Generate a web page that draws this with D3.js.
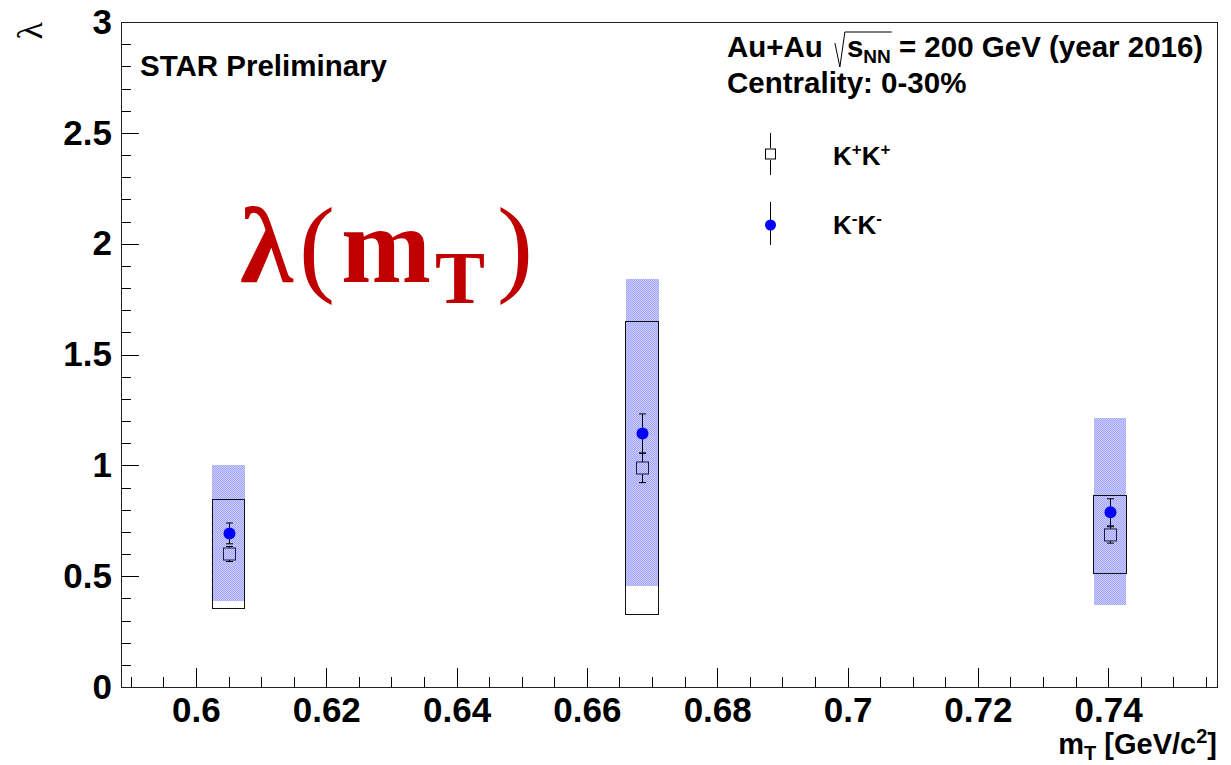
<!DOCTYPE html>
<html><head><meta charset="utf-8">
<script src="https://cdn.jsdelivr.net/npm/d3@7"></script>
<style>body{margin:0;background:#fff} svg{display:block}</style>
</head><body>
<svg id="c" width="1231" height="765"></svg>
<script>
// ---------------- data ----------------
const mT = [0.6050, 0.6685, 0.7403];
const lambdaKpKp = [0.600, 0.988, 0.686];
const statKpKp = [0.034, 0.066, 0.037];
const sysLowKpKp = [0.355, 0.328, 0.510];
const sysHighKpKp = [0.846, 1.648, 0.863];
const lambdaKmKm = [0.693, 1.144, 0.788];
const statKmKm = [0.047, 0.088, 0.061];
const sysLowKmKm = [0.390, 0.456, 0.370];
const sysHighKmKm = [1.000, 1.842, 1.212];
const sysHalfWidth = 0.0025;
const xTicks = [0.6, 0.62, 0.64, 0.66, 0.68, 0.7, 0.72, 0.74];
const yTicks = [0, 0.5, 1, 1.5, 2, 2.5, 3];
const xDomain = [0.5885, 0.7567];
const yDomain = [0, 3];

// ---------------- layout ----------------
const frame = {left:121, right:1217, top:22, bottom:687};
const x = d3.scaleLinear().domain(xDomain).range([frame.left, frame.right]);
const y = d3.scaleLinear().domain(yDomain).range([frame.bottom, frame.top]);
const SANS = "'Liberation Sans', Arial, Helvetica, sans-serif";
const SERIF = "'Liberation Serif', 'Times New Roman', serif";
const svg = d3.select("#c");

const defs = svg.append("defs");
const pat = defs.append("pattern").attr("id","hatch").attr("width",2).attr("height",2)
  .attr("patternUnits","userSpaceOnUse");
pat.append("rect").attr("width",2).attr("height",2).attr("fill","#cacbff");
pat.append("rect").attr("width",1).attr("height",1).attr("fill","#a4a6f8");
pat.append("rect").attr("x",1).attr("y",1).attr("width",1).attr("height",1).attr("fill","#a4a6f8");

// minor ticks
const xMinor = d3.range(0.59, 0.7566, 0.005).filter(v => Math.abs(v/0.02 - Math.round(v/0.02)) > 1e-6);
const yMinor = d3.range(0.1, 3.0, 0.1).filter(v => Math.abs(v/0.5 - Math.round(v/0.5)) > 1e-6);

// x axis
const gxm = svg.append("g").attr("transform",`translate(0,${frame.bottom})`)
  .call(d3.axisBottom(x).tickValues(xMinor).tickSize(-10).tickFormat(""));
gxm.select(".domain").remove();
const gx = svg.append("g").attr("transform",`translate(0,${frame.bottom})`)
  .call(d3.axisBottom(x).tickValues(xTicks).tickSize(-19).tickPadding(10).tickFormat(d3.format("~g")));
gx.select(".domain").remove();
gx.selectAll("text").attr("font-family",SANS).attr("font-weight","bold").attr("font-size",35).attr("fill","#000");

// y axis
const gym = svg.append("g").attr("transform",`translate(${frame.left},0)`)
  .call(d3.axisLeft(y).tickValues(yMinor).tickSize(-10).tickFormat(""));
gym.select(".domain").remove();
const gy = svg.append("g").attr("transform",`translate(${frame.left},0)`)
  .call(d3.axisLeft(y).tickValues(yTicks).tickSize(-18).tickPadding(9).tickFormat(d3.format("~g")));
gy.select(".domain").remove();
gy.selectAll("text").attr("font-family",SANS).attr("font-weight","bold").attr("font-size",35).attr("fill","#000");
svg.selectAll(".tick line").attr("stroke","#000").attr("stroke-width",1).attr("shape-rendering","crispEdges");

// frame
svg.append("rect").attr("x",frame.left).attr("y",frame.top)
  .attr("width",frame.right-frame.left).attr("height",frame.bottom-frame.top)
  .attr("fill","none").attr("stroke","#222").attr("stroke-width",1).attr("shape-rendering","crispEdges");

// ---------------- data marks ----------------
const idx = d3.range(mT.length);
const bw = i => x(mT[i]+sysHalfWidth) - x(mT[i]-sysHalfWidth);
// K-K- systematic band
svg.append("g").selectAll("rect").data(idx).join("rect")
  .attr("x", i => x(mT[i]-sysHalfWidth)).attr("width", bw)
  .attr("y", i => y(sysHighKmKm[i])).attr("height", i => y(sysLowKmKm[i]) - y(sysHighKmKm[i]))
  .attr("fill","url(#hatch)").attr("shape-rendering","crispEdges");
// K+K+ systematic box
svg.append("g").selectAll("rect").data(idx).join("rect")
  .attr("x", i => x(mT[i]-sysHalfWidth)).attr("width", bw)
  .attr("y", i => y(sysHighKpKp[i])).attr("height", i => y(sysLowKpKp[i]) - y(sysHighKpKp[i]))
  .attr("fill","none").attr("stroke","#111").attr("stroke-width",1).attr("shape-rendering","crispEdges");

function errorBars(vals, errs, half) {
  const g = svg.append("g").attr("stroke","#000").attr("stroke-width",1);
  idx.forEach(i => {
    const cx = Math.round(x(mT[i])) + 0.5;
    const yc = y(vals[i]), yt = y(vals[i]+errs[i]), yb = y(vals[i]-errs[i]);
    if (yc - half > yt) g.append("line").attr("x1",cx).attr("x2",cx).attr("y1",yc-half).attr("y2",yt);
    if (yc + half < yb) g.append("line").attr("x1",cx).attr("x2",cx).attr("y1",yc+half).attr("y2",yb);
    g.append("line").attr("x1",cx-3.5).attr("x2",cx+3.5).attr("y1",yt).attr("y2",yt);
    g.append("line").attr("x1",cx-3.5).attr("x2",cx+3.5).attr("y1",yb).attr("y2",yb);
  });
}
errorBars(lambdaKpKp, statKpKp, 6);
errorBars(lambdaKmKm, statKmKm, 5.8);

svg.append("g").selectAll("rect").data(idx).join("rect")
  .attr("x", i => Math.round(x(mT[i])) + 0.5 - 6).attr("y", i => y(lambdaKpKp[i]) - 6)
  .attr("width",12).attr("height",12).attr("fill","none").attr("stroke","#1c1c3c").attr("stroke-width",1);
svg.append("g").selectAll("circle").data(idx).join("circle")
  .attr("cx", i => Math.round(x(mT[i])) + 0.5).attr("cy", i => y(lambdaKmKm[i]))
  .attr("r",6).attr("fill","#0000ff");

// ---------------- texts ----------------
// y title (rotated lambda)
svg.append("text").attr("transform",`translate(42,${frame.top}) rotate(-90)`)
  .attr("text-anchor","end").attr("font-family",SERIF).attr("font-size",36).text("λ");
// x title
const xt = svg.append("text").attr("x",1217).attr("y",754).attr("text-anchor","end")
  .attr("font-family",SANS).attr("font-weight","bold").attr("font-size",29);
xt.append("tspan").text("m");
xt.append("tspan").attr("font-size",20).attr("dy",6).text("T");
xt.append("tspan").attr("dy",-6).text(" [GeV/c");
xt.append("tspan").attr("font-size",20).attr("dy",-11).text("2");
xt.append("tspan").attr("dy",11).text("]");

// STAR Preliminary
svg.append("text").attr("x",140).attr("y",76).attr("font-family",SANS).attr("font-weight","bold")
  .attr("font-size",29.5).text("STAR Preliminary");

// header
const h1 = svg.append("text").attr("x",727).attr("y",57).attr("font-family",SANS)
  .attr("font-weight","bold").attr("font-size",29.5);
h1.append("tspan").text("Au+Au");
const sT = h1.append("tspan").attr("dx",24).text("s");
const nnT = h1.append("tspan").attr("font-size",19).attr("dy",6).text("NN");
h1.append("tspan").attr("dy",-6).text(" = 200 GeV (year 2016)");
{
  const sx = sT.node().getStartPositionOfChar(0).x;
  const ex = nnT.node().getEndPositionOfChar(1).x;
  const yb = 57, x0 = sx - 12;
  svg.append("path").attr("d",`M${x0},${yb-14} L${x0+5},${yb+10} L${x0+10},${yb-25} L${ex+1},${yb-25}`)
    .attr("fill","none").attr("stroke","#000").attr("stroke-width",1);
}
svg.append("text").attr("x",727).attr("y",93).attr("font-family",SANS).attr("font-weight","bold")
  .attr("font-size",29.5).text("Centrality: 0-30%");

// legend
const lx = 770;
svg.append("line").attr("x1",lx+0.5).attr("x2",lx+0.5).attr("y1",133).attr("y2",148).attr("stroke","#000");
svg.append("line").attr("x1",lx+0.5).attr("x2",lx+0.5).attr("y1",160).attr("y2",175).attr("stroke","#000");
svg.append("rect").attr("x",lx+0.5-5).attr("y",149).attr("width",10).attr("height",10)
  .attr("fill","none").attr("stroke","#000");
svg.append("line").attr("x1",lx+0.5).attr("x2",lx+0.5).attr("y1",202).attr("y2",245).attr("stroke","#000");
svg.append("circle").attr("cx",lx+0.5).attr("cy",225).attr("r",5.5).attr("fill","#0000ff");
function kLabel(yb, sign) {
  const t = svg.append("text").attr("x",833).attr("y",yb).attr("font-family",SANS)
    .attr("font-weight","bold").attr("font-size",26);
  t.append("tspan").text("K");
  t.append("tspan").attr("font-size",17).attr("dy",-10).text(sign);
  t.append("tspan").attr("dy",10).text("K");
  t.append("tspan").attr("font-size",17).attr("dy",-10).text(sign);
}
kLabel(165, "+");
kLabel(234, "-");

// big red label
const rt = svg.append("text").attr("x",240).attr("y",282).attr("font-family",SERIF)
  .attr("font-weight","bold").attr("font-size",108).attr("fill","#c00000");
rt.append("tspan").text("λ");
rt.append("tspan").attr("font-weight","normal").attr("dx",6).text("(");
rt.append("tspan").attr("dx",6).text("m");
rt.append("tspan").attr("font-size",75).attr("dy",21).attr("dx",4).text("T");
rt.append("tspan").attr("font-weight","normal").attr("dy",-21).attr("dx",12).text(")");
</script>
</body></html>
